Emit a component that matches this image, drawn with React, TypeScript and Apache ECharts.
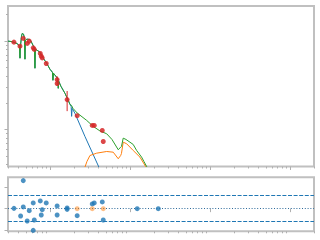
import { useEffect, useRef } from "react";
import * as echarts from "echarts";

// Stellar photosphere model (blue)
const stellarModel: [number, number][] = [
  [0.0299, 1.0], [0.0335, 0.987], [0.0376, 0.949], [0.0398, 0.924], [0.0416, 0.877],
  [0.0422, 0.641], [0.0428, 0.877], [0.0441, 1.14], [0.0451, 1.223], [0.0467, 1.201],
  [0.048, 1.082], [0.0487, 0.6245], [0.0494, 1.026], [0.0516, 1.054], [0.0551, 1.045],
  [0.0579, 1.0], [0.0613, 0.901], [0.064, 0.833], [0.0649, 0.4934], [0.0659, 0.811],
  [0.0688, 0.79], [0.075, 0.75], [0.0824, 0.641], [0.091, 0.5623], [0.1, 0.4807],
  [0.1074, 0.4443], [0.109, 0.3604], [0.1107, 0.4329], [0.1213, 0.3898], [0.1259, 0.37],
  [0.1271, 0.2923], [0.1288, 0.3511], [0.1372, 0.308], [0.154, 0.2566], [0.1694, 0.2135],
  [0.1778, 0.1923], [0.1841, 0.1825], [0.1866, 0.1405], [0.1894, 0.1732], [0.2054, 0.152],
  [0.2738, 0.0833], [0.4097, 0.0373], [0.4732, 0.0285],
];

// Dust emission model (orange)
const dustModel: [number, number][] = [
  [0.2512, 0.0263], [0.2738, 0.0373], [0.29, 0.0433], [0.3162, 0.0506], [0.3837, 0.0538],
  [0.5117, 0.0562], [0.618, 0.0552], [0.7145, 0.0465], [0.7656, 0.0506], [0.7834, 0.0534],
  [0.8241, 0.0717], [0.9099, 0.0688], [1.099, 0.0577], [1.334, 0.0485], [1.571, 0.038],
  [1.631, 0.0351],
];

// Total model (green)
const totalModel: [number, number][] = [
  [0.0299, 1.0], [0.0335, 0.987], [0.0376, 0.949], [0.0398, 0.924], [0.0416, 0.877],
  [0.0422, 0.641], [0.0428, 0.877], [0.0441, 1.14], [0.0451, 1.223], [0.0467, 1.201],
  [0.048, 1.082], [0.0487, 0.6245], [0.0494, 1.026], [0.0516, 1.054], [0.0551, 1.045],
  [0.0579, 1.0], [0.0613, 0.901], [0.064, 0.833], [0.0649, 0.4934], [0.0659, 0.811],
  [0.0688, 0.79], [0.075, 0.75], [0.0824, 0.641], [0.091, 0.5623], [0.1, 0.4807],
  [0.1074, 0.4443], [0.109, 0.3604], [0.1107, 0.4329], [0.1213, 0.3898], [0.1259, 0.37],
  [0.1271, 0.2923], [0.1288, 0.3511], [0.1372, 0.308], [0.154, 0.2566], [0.1694, 0.2135],
  [0.1778, 0.1923], [0.1858, 0.1874], [0.1939, 0.1732], [0.2193, 0.1532], [0.2877, 0.1266],
  [0.3475, 0.1082], [0.4217, 0.0961], [0.5117, 0.0893], [0.5957, 0.077], [0.7145, 0.0588],
  [0.7656, 0.0629], [0.7834, 0.0641], [0.8241, 0.0796], [0.891, 0.077], [1.0, 0.0717],
  [1.099, 0.0675], [1.213, 0.0577], [1.4, 0.0485], [1.496, 0.0433], [1.618, 0.038],
  [1.679, 0.0351],
];

// Observed photometry (red)
const photometry: [number, number][] = [
  [0.0355, 0.974], [0.0422, 0.877], [0.0464, 1.073], [0.052, 0.942], [0.0551, 1.0],
  [0.0618, 0.839], [0.0637, 0.805], [0.0757, 0.725], [0.0779, 0.675], [0.0801, 0.646],
  [0.0899, 0.558], [0.123, 0.367], [0.123, 0.331], [0.164, 0.2175], [0.219, 0.143],
  [0.338, 0.111], [0.358, 0.111], [0.451, 0.0974], [0.464, 0.073],
];

// Error bars: [x, low, high]
const photErrors: [number, number, number][] = [
  [0.123, 0.316, 0.4],
  [0.164, 0.161, 0.272],
];

// Residuals (blue) and flagged residuals (orange)
const residuals: [number, number][] = [
  [0.0355, 0.07], [0.043, -1.68], [0.0464, 6.44], [0.0464, 0.39], [0.052, -2.83],
  [0.0551, -0.46], [0.0618, 1.31], [0.0618, -4.99], [0.0637, -2.6], [0.0757, 1.77],
  [0.0779, -1.45], [0.0801, -0.23], [0.0899, 1.31], [0.123, 0.62], [0.123, -1.45],
  [0.164, 0.16], [0.164, -0.16], [0.219, -1.61], [0.338, 1.08], [0.358, 1.31],
  [0.451, 1.54], [0.464, -2.6], [1.233, 0], [2.26, 0],
];
const flaggedResiduals: [number, number][] = [[0.219, 0], [0.338, 0], [0.464, 0]];

const sigmaLines = [-3, 3];

// Tick values
const xMajorTicks = [0.1, 1, 10, 100];
const xMinorTicks = [
  0.03, 0.04, 0.05, 0.06, 0.07, 0.08, 0.09,
  0.2, 0.3, 0.4, 0.5, 0.6, 0.7, 0.8, 0.9,
  2, 3, 4, 5, 6, 7, 8, 9,
  20, 30, 40, 50, 60, 70, 80, 90,
  200,
];
const yMajorTicks = [0.1, 1];
const yMinorTicks = [0.04, 0.05, 0.06, 0.07, 0.08, 0.09, 0.2, 0.3, 0.4, 0.5, 0.6, 0.7, 0.8, 0.9, 2];
const residTicks = [-5, 0, 5];

const X_MIN = 0.0299;
const X_MAX = 200;
const Y_MIN = 0.038;
const Y_MAX = 2.5;
const R_MIN = -5.2;
const R_MAX = 7.2;

const TICK_COLOR = "#b0b0b0";

function tickAxis(
  gridIndex: number,
  type: string,
  min: number,
  max: number,
  ticks: number[],
  length: number,
  position: string
) {
  return {
    type,
    gridIndex,
    min,
    max,
    position,
    axisLine: { show: false },
    axisLabel: { show: false },
    splitLine: { show: false },
    axisTick: {
      show: true,
      customValues: ticks,
      length,
      inside: false,
      lineStyle: { color: TICK_COLOR, width: 1 },
    },
  };
}

export default function App() {
  const ref = useRef<HTMLDivElement>(null);

  useEffect(() => {
    if (!ref.current) return;
    const chart = echarts.init(ref.current, null, { renderer: "svg" });
    const option: any = {
      animation: false,
      backgroundColor: "#ffffff",
      grid: [
        { left: 8, top: 6, width: 306, height: 160.5, show: true, borderColor: "#c0c0c0", borderWidth: 2 },
        { left: 8, top: 177.3, width: 306, height: 54, show: true, borderColor: "#c0c0c0", borderWidth: 2 },
      ],
      xAxis: [
        tickAxis(0, "log", X_MIN, X_MAX, xMajorTicks, 3.5, "bottom"),
        tickAxis(0, "log", X_MIN, X_MAX, xMinorTicks, 2, "bottom"),
        tickAxis(1, "log", X_MIN, X_MAX, xMajorTicks, 3.5, "bottom"),
        tickAxis(1, "log", X_MIN, X_MAX, xMinorTicks, 2, "bottom"),
      ],
      yAxis: [
        tickAxis(0, "log", Y_MIN, Y_MAX, yMajorTicks, 3.5, "left"),
        tickAxis(0, "log", Y_MIN, Y_MAX, yMinorTicks, 2, "left"),
        tickAxis(1, "value", R_MIN, R_MAX, residTicks, 3.5, "left"),
      ],
      series: [
        {
          type: "line",
          xAxisIndex: 0,
          yAxisIndex: 0,
          data: stellarModel,
          showSymbol: false,
          symbol: "none",
          lineStyle: { color: "#1f77b4", width: 1 },
          z: 2,
        },
        {
          type: "line",
          xAxisIndex: 0,
          yAxisIndex: 0,
          data: dustModel,
          showSymbol: false,
          symbol: "none",
          lineStyle: { color: "#ff7f0e", width: 1 },
          z: 3,
        },
        {
          type: "line",
          xAxisIndex: 0,
          yAxisIndex: 0,
          data: totalModel,
          showSymbol: false,
          symbol: "none",
          lineStyle: { color: "#2ca02c", width: 1 },
          z: 4,
        },
        {
          type: "custom",
          xAxisIndex: 0,
          yAxisIndex: 0,
          data: photErrors,
          encode: { x: 0, y: [1, 2] },
          z: 5,
          renderItem: (_params: any, api: any) => {
            const x = api.value(0);
            const p1 = api.coord([x, api.value(1)]);
            const p2 = api.coord([x, api.value(2)]);
            return {
              type: "line",
              shape: { x1: p1[0], y1: p1[1], x2: p2[0], y2: p2[1] },
              style: { stroke: "#d62728", lineWidth: 1 },
            };
          },
        },
        {
          type: "scatter",
          xAxisIndex: 0,
          yAxisIndex: 0,
          data: photometry,
          symbol: "circle",
          symbolSize: 5,
          itemStyle: { color: "#d62728", opacity: 0.85 },
          z: 6,
        },
        {
          type: "scatter",
          xAxisIndex: 2,
          yAxisIndex: 2,
          data: residuals,
          symbol: "circle",
          symbolSize: 5,
          itemStyle: { color: "#1f77b4" },
          z: 6,
          markLine: {
            silent: true,
            symbol: "none",
            label: { show: false },
            data: [
              ...sigmaLines.map((v) => ({
                yAxis: v,
                lineStyle: { color: "#1f77b4", type: [4, 1.6], width: 1 },
              })),
              { yAxis: 0, lineStyle: { color: "#2d6a9a", type: [1, 1.8], width: 1 } },
            ],
          },
        },
        {
          type: "scatter",
          xAxisIndex: 2,
          yAxisIndex: 2,
          data: flaggedResiduals,
          symbol: "circle",
          symbolSize: 5,
          itemStyle: { color: "#ff7f0e", opacity: 0.5 },
          z: 7,
        },
      ],
    };
    chart.setOption(option);
    return () => {
      chart.dispose();
    };
  }, []);

  return (
    <div
      ref={ref}
      style={{ position: "fixed", left: 0, top: 0, width: 320, height: 240 }}
    />
  );
}
